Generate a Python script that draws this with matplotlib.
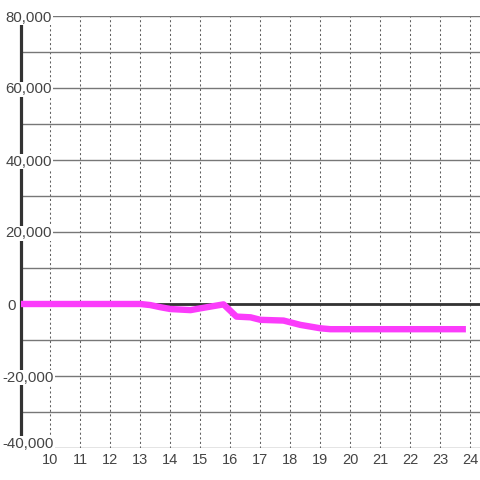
import matplotlib
matplotlib.use('Agg')
import matplotlib.pyplot as plt
import matplotlib.transforms as mtransforms

# values
hours = [9.0, 13.0, 13.33, 13.67, 14.0, 14.67, 15.0, 15.77, 16.2, 16.67, 17.0, 17.77, 18.33, 19.0, 19.33, 23.85]
balance = [0, 0, -300, -900, -1400, -1700, -1200, -100, -3500, -3700, -4400, -4600, -5800, -6750, -7000, -7000]
x_ticks = list(range(10, 25))
y_grid = list(range(-40000, 80001, 10000))
y_labels = list(range(-40000, 80001, 20000))

W, H, DPI = 480, 480, 100
fig = plt.figure(figsize=(W / DPI, H / DPI), dpi=DPI)
ax = fig.add_axes([20.5 / W, 32 / H, (W - 20.5) / W, 432 / H])
ax.set_xlim(9.0, 24.32)
ax.set_ylim(-40000, 80000)
for s in ax.spines.values():
    s.set_visible(False)

ax.set_axisbelow(True)
ax.set_xticks(x_ticks)
ax.set_yticks(y_grid)
ax.set_yticklabels([])
ax.tick_params(length=0)
ax.tick_params(axis='x', pad=3.5, labelsize=10.5, labelcolor='#444444')
ax.xaxis.grid(True, color='#606060', lw=0.75, ls=(0, (2, 2.4)))
ax.yaxis.grid(True, color='#777777', lw=1.0, ls='-')
for lab in ax.get_xticklabels():
    lab.set_fontfamily('Liberation Sans')

ax.axhline(0, color='#333333', lw=2.0, zorder=1.5)
ax.axvline(9.0, color='#333333', lw=2.3, zorder=1.6, clip_on=False)

ax.plot(hours, balance, color='#fb3cfb', lw=4.6, solid_capstyle='butt',
        solid_joinstyle='round', zorder=3)

# y labels drawn over the plot with white boxes
for v in y_labels:
    txt = f'{v:,}'
    dx = 2.5 if v < 0 else (7.0 if v == 0 else 5.5)
    dy = 4.5 if v == -40000 else -1.5
    off = mtransforms.ScaledTranslation(dx / DPI, dy / DPI, fig.dpi_scale_trans)
    tr = mtransforms.blended_transform_factory(fig.transFigure, ax.transData) + off
    ax.text(0, v, txt, transform=tr, ha='left', va='center', fontsize=10.8,
            color='#444444', family='Liberation Sans', zorder=6, clip_on=False,
            bbox=dict(boxstyle='square,pad=0.05', fc='white', ec='none'))

fig.savefig('out.png', dpi=DPI)
